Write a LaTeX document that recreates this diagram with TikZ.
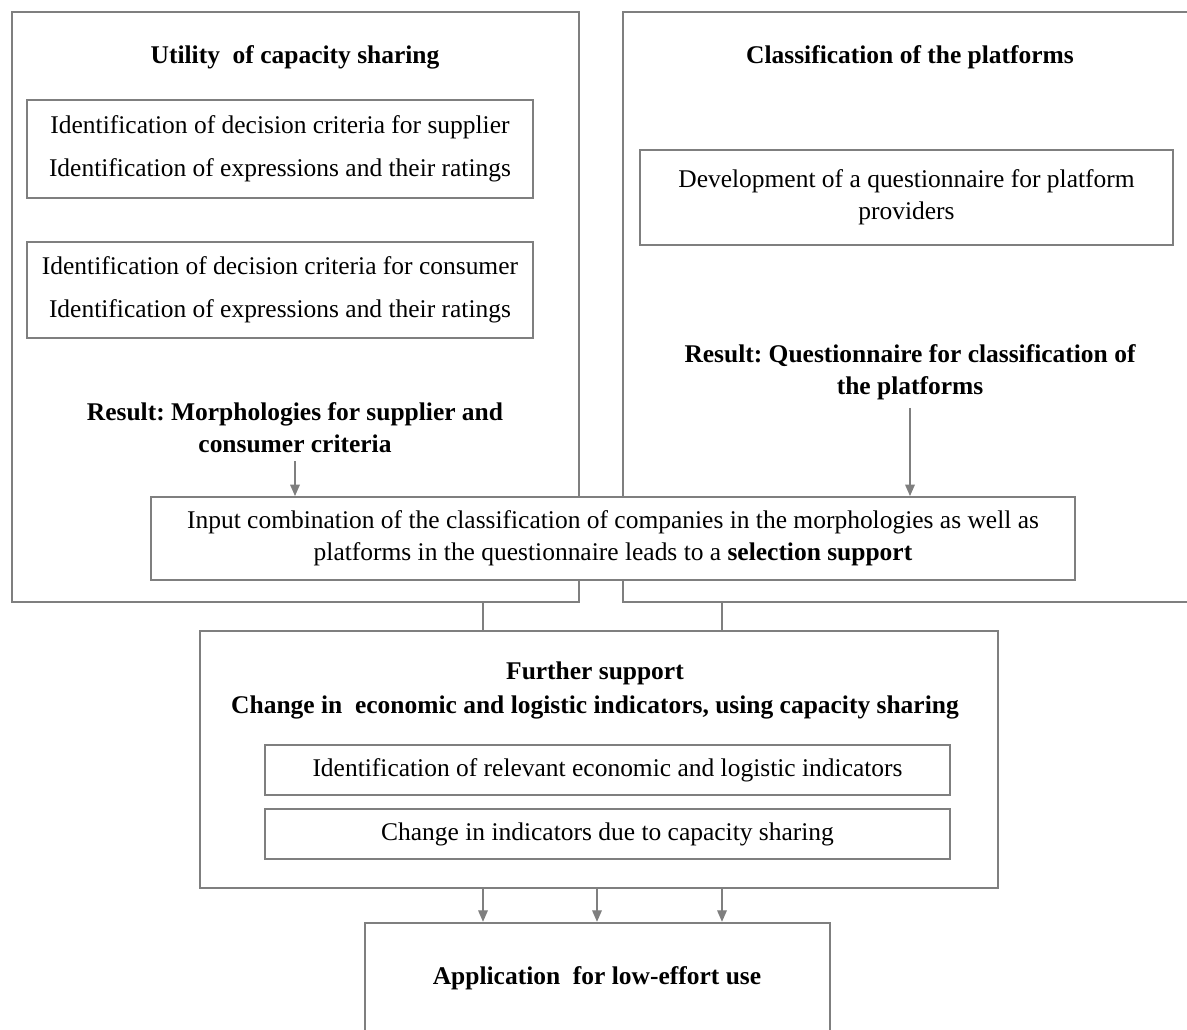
\documentclass[tikz,border=0pt]{standalone}
\usepackage{fontspec}
\setmainfont{Liberation Serif}
\usetikzlibrary{arrows.meta,calc,positioning}
\definecolor{frame}{HTML}{7F7F7F}
\frenchspacing

\begin{document}
\begin{tikzpicture}[x=0.02cm,y=-0.02cm,>={Triangle[length=6.5pt,width=5.5pt]},
  every node/.style={font=\fontsize{14.5}{18}\selectfont,align=center,inner sep=0pt},
  bigbox/.style={draw=frame,line width=1.4pt},
  innerbox/.style={draw=frame,line width=0.9pt},
  wide/.style={font=\fontsize{14.5}{24.5}\selectfont},
  title/.style={font=\fontsize{14.5}{18}\selectfont\bfseries},
  conn/.style={draw=frame,line width=0.7pt}]
  \clip (0,0) rectangle (1187,1030);
  % the two upper frames
  \node[bigbox,minimum width=11.34cm,minimum height=11.8cm] (utility) at (295.5,307) {};
  \node[bigbox,minimum width=11.38cm,minimum height=11.8cm] (platforms) at (907.5,307) {};
  \node[title] (utilT) at (295,57) {Utility\ \ of capacity sharing};
  \node[title] (platT) at (910,57) {Classification of the platforms};
  % left column
  \node[innerbox,wide,minimum width=10.12cm,minimum height=1.96cm] (supp) at (280,149)
    {Identification of decision criteria for supplier\\Identification of expressions and their ratings};
  \node[innerbox,wide,minimum width=10.12cm,minimum height=1.92cm] (cons) at (280,290)
    {Identification of decision criteria for consumer\\Identification of expressions and their ratings};
  \node[title] (resL) at (295,428) {Result: Morphologies for supplier and\\consumer criteria};
  % right column
  \node[innerbox,minimum width=10.66cm,minimum height=1.9cm] (dev) at (906.5,197.5)
    {Development of a questionnaire for platform\\providers};
  \node[title] (resR) at (910,372) {Result: Questionnaire for classification of\\the platforms};
  % combination
  \node[draw=frame,fill=white,line width=1.1pt,minimum width=18.48cm,minimum height=1.66cm] (input) at (613,538.5)
    {Input combination of the classification of companies in the morphologies as well as\\
     platforms in the questionnaire leads to a \textbf{selection support}};
  % further support
  \node[bigbox,minimum width=15.96cm,minimum height=5.14cm] (further) at (599,759.5) {};
  \node[title,font=\fontsize{14.5}{19}\selectfont\bfseries] (furtherT) at (595,690.5)
    {Further support\\Change in\ \ economic and logistic indicators, using capacity sharing};
  \node[innerbox,minimum width=13.7cm,minimum height=1cm] (ind1) at (607.5,770)
    {Identification of relevant economic and logistic indicators};
  \node[innerbox,minimum width=13.7cm,minimum height=1cm] (ind2) at (607.5,834)
    {Change in indicators due to capacity sharing};
  % application
  \node[bigbox,minimum width=9.3cm,minimum height=2.16cm] (app) at (597.5,977) {};
  \node[title] (appT) at (597,978) {Application\ \ for low-effort use};
  % connectors
  \coordinate (c1) at (483,0);
  \coordinate (c2) at (597,0);
  \coordinate (c3) at (722,0);
  \draw[conn,->] (resL.south) ++(0,8) -- (resL.south |- input.north);
  \draw[conn,->] (resR.south) ++(0,8) -- (resR.south |- input.north);
  \draw[conn] (utility.south -| c1) -- (further.north -| c1);
  \draw[conn] (platforms.south -| c3) -- (further.north -| c3);
  \draw[conn,->] (further.south -| c1) -- (app.north -| c1);
  \draw[conn,->] (further.south -| c2) -- (app.north -| c2);
  \draw[conn,->] (further.south -| c3) -- (app.north -| c3);
\end{tikzpicture}
\end{document}
